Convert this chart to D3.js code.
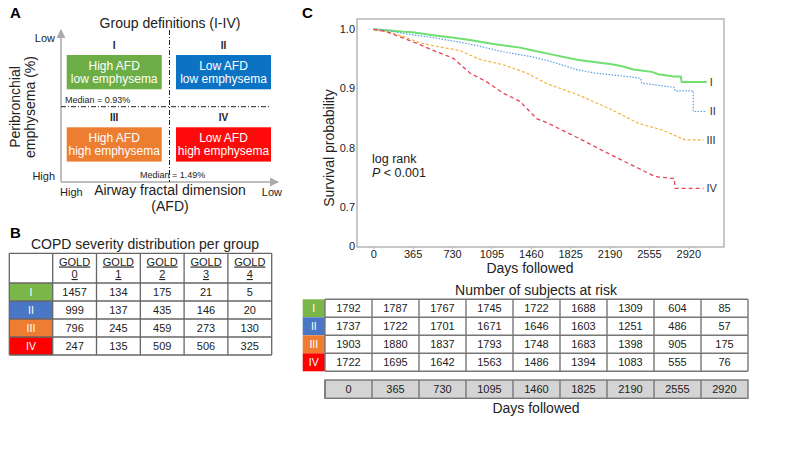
<!DOCTYPE html>
<html><head><meta charset="utf-8">
<script src="https://cdn.jsdelivr.net/npm/d3@7"></script>
<style>body{margin:0;background:#fff}svg{display:block;font-family:"Liberation Sans",Arial,sans-serif}</style>
</head><body><svg id="c" width="800" height="450"></svg>
<script>
// ---------- DATA ----------
const groups = ["I","II","III","IV"];
const goldLevels = ["0","1","2","3","4"];
const copdCounts = [
  [1457,134,175,21,5],
  [999,137,435,146,20],
  [796,245,459,273,130],
  [247,135,509,506,325]
];
const riskDays = [0,365,730,1095,1460,1825,2190,2555,2920];
const atRisk = [
  [1792,1787,1767,1745,1722,1688,1309,604,85],
  [1737,1722,1701,1671,1646,1603,1251,486,57],
  [1903,1880,1837,1793,1748,1683,1398,905,175],
  [1722,1695,1642,1563,1486,1394,1083,555,76]
];
const xTicks = [0,365,730,1095,1460,1825,2190,2555,2920];
const yTickValues = [0.634,0.7,0.8,0.9,1.0];
const yTickLabels = ["0","0.7","0.8","0.9","1.0"];
const survI = [[0,1.0],[100,0.999],[278,0.996],[365,0.995],[587,0.989],[730,0.986],[896,0.982],[1113,0.975],[1360,0.969],[1460,0.965],[1638,0.958],[1901,0.948],[2210,0.941],[2318,0.937],[2411,0.932],[2581,0.928],[2643,0.924],[2782,0.920],[2850,0.920],[2859,0.911],[3091,0.911]];
const survII = [[0,1.0],[100,0.999],[278,0.993],[587,0.985],[896,0.975],[1205,0.962],[1460,0.954],[1638,0.946],[1901,0.931],[2056,0.926],[2365,0.920],[2480,0.917],[2488,0.909],[2735,0.903],[2790,0.902],[2797,0.896],[2966,0.896],[2966,0.861],[3091,0.861]];
const survIII = [[0,1.0],[124,0.996],[278,0.988],[433,0.977],[587,0.971],[803,0.964],[989,0.949],[1205,0.940],[1422,0.926],[1610,0.908],[1901,0.889],[2210,0.864],[2457,0.841],[2674,0.830],[2890,0.813],[3060,0.813]];
const survIV = [[0,1.0],[124,0.996],[278,0.985],[433,0.974],[587,0.962],[742,0.951],[896,0.926],[1051,0.911],[1205,0.892],[1360,0.878],[1514,0.849],[1610,0.842],[1901,0.816],[2210,0.787],[2457,0.765],[2612,0.751],[2767,0.748],[2790,0.748],[2797,0.731],[3060,0.731]];

// ---------- STYLE ----------
const boxColors = ["#6cad45","#0b72c4","#ed7d31","#fe0a0a"];
const cellColors = ["#7ab648","#4a76c6","#ee7d31","#fe0000"];
const curveStyles = [
  {c:"#6fe06f", w:2, d:null},
  {c:"#5aa0e6", w:1.2, d:"1.5,1.5"},
  {c:"#f2b444", w:1.2, d:"3,2"},
  {c:"#e04658", w:1.3, d:"4,3"}
];
const svg = d3.select("#c");
const ink = "#222";

// ---------- PANEL A ----------
const A = svg.append("g");
A.append("text").attr("x",10).attr("y",18).attr("font-size",15).attr("font-weight","bold").text("A");
A.append("text").attr("x",170).attr("y",28).attr("text-anchor","middle").attr("font-size",14).attr("fill",ink).text("Group definitions (I-IV)");
const defs = svg.append("defs");
defs.append("marker").attr("id","arr").attr("viewBox","0 0 10 10").attr("refX",9).attr("refY",5)
  .attr("markerWidth",6).attr("markerHeight",6).attr("orient","auto")
  .append("path").attr("d","M0,0L10,5L0,10z").attr("fill","#aaa");
A.append("line").attr("x1",61).attr("y1",182).attr("x2",61).attr("y2",30).attr("stroke","#aaa").attr("stroke-width",1.5).attr("marker-end","url(#arr)");
A.append("line").attr("x1",61).attr("y1",182).attr("x2",278).attr("y2",182).attr("stroke","#aaa").attr("stroke-width",1.5).attr("marker-end","url(#arr)");
A.append("line").attr("x1",169.5).attr("y1",30).attr("x2",169.5).attr("y2",182).attr("stroke","#222").attr("stroke-width",1).attr("stroke-dasharray","5,2,1,2");
A.append("line").attr("x1",61).attr("y1",106.7).attr("x2",270).attr("y2",106.7).attr("stroke","#222").attr("stroke-width",1).attr("stroke-dasharray","5,2,1,2");
A.append("text").attr("x",65).attr("y",103).attr("font-size",9).attr("fill",ink).text("Median = 0.93%");
A.append("text").attr("x",140).attr("y",177.5).attr("font-size",9).attr("fill",ink).text("Median = 1.49%");
A.append("text").attr("x",55).attr("y",42).attr("text-anchor","end").attr("font-size",11).attr("fill",ink).text("Low");
A.append("text").attr("x",55).attr("y",180).attr("text-anchor","end").attr("font-size",11).attr("fill",ink).text("High");
A.append("text").attr("x",60).attr("y",195.5).attr("font-size",11).attr("fill",ink).text("High");
A.append("text").attr("x",282).attr("y",195.5).attr("text-anchor","end").attr("font-size",11).attr("fill",ink).text("Low");
A.append("text").attr("x",170).attr("y",195).attr("text-anchor","middle").attr("font-size",14).attr("fill",ink).text("Airway fractal dimension");
A.append("text").attr("x",170).attr("y",210.5).attr("text-anchor","middle").attr("font-size",14).attr("fill",ink).text("(AFD)");
const yl = A.append("text").attr("transform","translate(20,107) rotate(-90)").attr("text-anchor","middle").attr("font-size",14).attr("fill",ink);
yl.append("tspan").attr("x",0).attr("dy",0).text("Peribronchial");
yl.append("tspan").attr("x",0).attr("dy",14.5).text("emphysema (%)");
const quad = [
  {g:"I", x:66.7, y:55, l1:"High AFD", l2:"low emphysema"},
  {g:"II", x:176, y:55, l1:"Low AFD", l2:"low emphysema"},
  {g:"III", x:66.7, y:127.3, l1:"High AFD", l2:"high emphysema"},
  {g:"IV", x:176, y:127.3, l1:"Low AFD", l2:"high emphysema"}
];
quad.forEach((q,i)=>{
  A.append("rect").attr("x",q.x).attr("y",q.y).attr("width",95).attr("height",34.3).attr("fill",boxColors[i]);
  A.append("text").attr("x",q.x+47.5).attr("y",q.y-6).attr("text-anchor","middle").attr("font-size",10).attr("font-weight","bold").attr("fill",ink).text(q.g);
  A.append("text").attr("x",q.x+47.5).attr("y",q.y+15).attr("text-anchor","middle").attr("font-size",12).attr("fill","#fff").text(q.l1);
  A.append("text").attr("x",q.x+47.5).attr("y",q.y+28).attr("text-anchor","middle").attr("font-size",12).attr("fill","#fff").text(q.l2);
});

// ---------- PANEL B ----------
const B = svg.append("g");
B.append("text").attr("x",10).attr("y",238).attr("font-size",15).attr("font-weight","bold").text("B");
B.append("text").attr("x",145).attr("y",248.5).attr("text-anchor","middle").attr("font-size",14).attr("fill",ink).text("COPD severity distribution per group");
const bx = d3.scaleBand().domain(goldLevels).range([52.7,271.7]);
const by = d3.scaleBand().domain(groups).range([283,355]);
const bLeft = 9.3, bTop = 253.3;
B.append("rect").attr("x",bLeft).attr("y",bTop).attr("width",bx.range()[0]-bLeft).attr("height",283-bTop).attr("fill","#fff");
goldLevels.forEach(g=>{
  B.append("text").attr("x",bx(g)+bx.bandwidth()/2).attr("y",265.5).attr("text-anchor","middle").attr("font-size",11).attr("fill",ink).style("text-decoration","underline").text("GOLD");
  B.append("text").attr("x",bx(g)+bx.bandwidth()/2).attr("y",278).attr("text-anchor","middle").attr("font-size",11).attr("fill",ink).style("text-decoration","underline").text(g);
});
groups.forEach((gr,i)=>{
  B.append("rect").attr("x",bLeft).attr("y",by(gr)).attr("width",bx.range()[0]-bLeft).attr("height",by.bandwidth()).attr("fill",cellColors[i]);
  B.append("text").attr("x",(bLeft+bx.range()[0])/2).attr("y",by(gr)+by.bandwidth()/2+3.8).attr("text-anchor","middle").attr("font-size",10.5).attr("fill","#fff").text(gr);
  goldLevels.forEach((g,j)=>{
    B.append("text").attr("x",bx(g)+bx.bandwidth()/2).attr("y",by(gr)+by.bandwidth()/2+4).attr("text-anchor","middle").attr("font-size",11).attr("fill",ink).text(copdCounts[i][j]);
  });
});
const gridB = B.append("g").attr("stroke","#666").attr("stroke-width",1.3);
[bTop].concat(groups.map(g=>by(g))).concat([355]).forEach(yv=>gridB.append("line").attr("x1",bLeft).attr("x2",271.7).attr("y1",yv).attr("y2",yv));
[bLeft].concat(goldLevels.map(g=>bx(g))).concat([271.7]).forEach(xv=>gridB.append("line").attr("x1",xv).attr("x2",xv).attr("y1",bTop).attr("y2",355));

// ---------- PANEL C ----------
const C = svg.append("g");
C.append("text").attr("x",302).attr("y",18).attr("font-size",15).attr("font-weight","bold").text("C");
const x = d3.scaleLinear().domain([0,2920]).range([373.3,688.3]);
const y = d3.scaleLinear().domain([0.7,1.0]).range([206.7,29.3]);
const fx0=357, fx1=724, fy0=19, fy1=247;
C.append("rect").attr("x",fx0).attr("y",fy0).attr("width",fx1-fx0).attr("height",fy1-fy0).attr("fill","none").attr("stroke","#aaa").attr("stroke-width",1.3);
const xa = C.append("g").attr("transform",`translate(0,${fy1})`)
  .call(d3.axisBottom(x).tickValues(xTicks).tickSize(2).tickPadding(1).tickFormat(d3.format("d")));
xa.select(".domain").remove();
xa.selectAll("line").attr("stroke","#bbb");
xa.selectAll("text").attr("font-size",11).attr("fill",ink).attr("font-family","Liberation Sans, Arial, sans-serif");
const ya = C.append("g").attr("transform",`translate(${fx0},0)`)
  .call(d3.axisLeft(y).tickValues(yTickValues).tickSize(0).tickPadding(2).tickFormat((d,i)=>yTickLabels[i]));
ya.select(".domain").remove();
ya.selectAll("text").attr("font-size",11).attr("fill",ink).attr("font-family","Liberation Sans, Arial, sans-serif");
C.append("text").attr("transform","translate(334,148) rotate(-90)").attr("text-anchor","middle").attr("font-size",14).attr("fill",ink).text("Survival probability");
C.append("text").attr("x",530).attr("y",273).attr("text-anchor","middle").attr("font-size",14).attr("fill",ink).text("Days followed");
C.append("text").attr("x",372).attr("y",163).attr("font-size",12.5).attr("fill",ink).text("log rank");
const pt = C.append("text").attr("x",372).attr("y",177).attr("font-size",12.5).attr("fill",ink);
pt.append("tspan").attr("font-style","italic").text("P");
pt.append("tspan").text(" < 0.001");
const line = d3.line().x(d=>x(d[0])).y(d=>y(d[1]));
[survI,survII,survIII,survIV].forEach((s,i)=>{
  const st = curveStyles[i];
  C.append("path").datum(s).attr("d",line).attr("fill","none").attr("stroke",st.c).attr("stroke-width",st.w)
    .attr("stroke-dasharray",st.d);
  const last = s[s.length-1];
  C.append("text").attr("x",x(last[0])+3).attr("y",y(last[1])+4).attr("font-size",11).attr("fill","#333").text(groups[i]);
});

C.append("text").attr("x",536).attr("y",295).attr("text-anchor","middle").attr("font-size",14).attr("fill",ink).text("Number of subjects at risk");
const rx = d3.scaleBand().domain(riskDays).range([325,748]);
const ry = d3.scaleBand().domain(groups).range([299.3,371.3]);
groups.forEach((gr,i)=>{
  C.append("rect").attr("x",302.7).attr("y",ry(gr)).attr("width",325-302.7).attr("height",ry.bandwidth()).attr("fill",cellColors[i]);
  C.append("text").attr("x",313.8).attr("y",ry(gr)+ry.bandwidth()/2+4).attr("text-anchor","middle").attr("font-size",10.5).attr("fill","#fff").text(gr);
  riskDays.forEach((d,j)=>{
    C.append("text").attr("x",rx(d)+rx.bandwidth()/2).attr("y",ry(gr)+ry.bandwidth()/2+4).attr("text-anchor","middle").attr("font-size",11).attr("fill",ink).text(atRisk[i][j]);
  });
});
const gridC = C.append("g").attr("stroke","#777").attr("stroke-width",1.4);
groups.map(g=>ry(g)).concat([371.3]).forEach(yv=>gridC.append("line").attr("x1",325).attr("x2",748).attr("y1",yv).attr("y2",yv));
riskDays.map(d=>rx(d)).concat([748]).forEach(xv=>gridC.append("line").attr("x1",xv).attr("x2",xv).attr("y1",299.3).attr("y2",371.3));
const dTop=380, dBot=398.3;
C.append("rect").attr("x",325).attr("y",dTop).attr("width",748-325).attr("height",dBot-dTop).attr("fill","#d4d4d4").attr("stroke","#777").attr("stroke-width",1.4);
riskDays.forEach(d=>{
  C.append("line").attr("x1",rx(d)).attr("x2",rx(d)).attr("y1",dTop).attr("y2",dBot).attr("stroke","#777").attr("stroke-width",1.4);
  C.append("text").attr("x",rx(d)+rx.bandwidth()/2).attr("y",(dTop+dBot)/2+4).attr("text-anchor","middle").attr("font-size",11).attr("fill",ink).text(d);
});
C.append("text").attr("x",536).attr("y",413).attr("text-anchor","middle").attr("font-size",14).attr("fill",ink).text("Days followed");
</script></body></html>
